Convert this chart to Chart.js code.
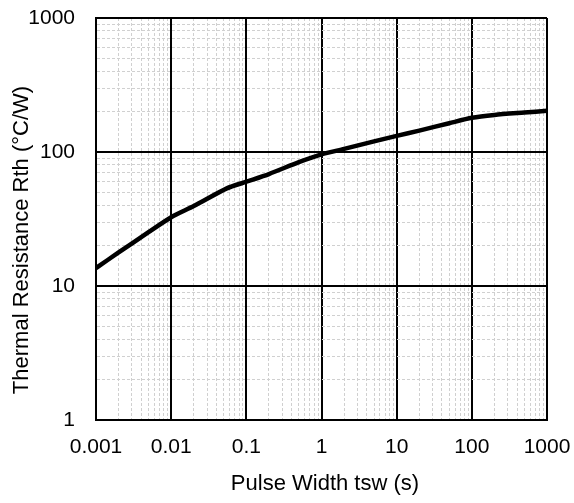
<!DOCTYPE html>
<html>
<head>
<meta charset="utf-8">
<title>Thermal Resistance vs Pulse Width</title>
<script src="https://cdn.jsdelivr.net/npm/chart.js@4.4.1/dist/chart.umd.min.js"></script>
<style>
  html, body { margin: 0; padding: 0; background: #fff; }
  #chart { display: block; }
</style>
</head>
<body>
<canvas id="chart" width="574" height="503"></canvas>
<script>
  // values
  const pulseWidth = [0.001, 0.002, 0.005, 0.01, 0.02, 0.055, 0.1, 0.2, 0.5, 1, 2, 5, 10, 20, 50, 100, 200, 500, 1000];
  const thermalRes = [13.6, 17.8, 25.2, 32.6, 39.5, 53.5, 60, 68.5, 84, 96, 105.5, 120, 132, 144.5, 164, 180, 189, 197, 203];

  const xMajorTicks = [0.001, 0.01, 0.1, 1, 10, 100, 1000];
  const xTickLabels = ["0.001", "0.01", "0.1", "1", "10", "100", "1000"];
  const yMajorTicks = [1, 10, 100, 1000];
  const yTickLabels = ["1", "10", "100", "1000"];
  const minorSteps = [2, 3, 4, 5, 6, 7, 8, 9];

  const xTitle = "Pulse Width tsw (s)";
  const yTitle = "Thermal Resistance Rth (°C/W)";

  const FONT = "Arial, 'Liberation Sans', sans-serif";

  function withMinors(majors) {
    const out = [];
    majors.forEach((m, i) => {
      out.push(m);
      if (i < majors.length - 1) {
        minorSteps.forEach((s) => out.push(+(m * s).toPrecision(6)));
      }
    });
    return out;
  }

  function isMajor(list, v) {
    return list.some((m) => Math.abs(m - v) / m < 1e-6);
  }

  function labelFor(list, labels, v) {
    const i = list.findIndex((m) => Math.abs(m - v) / m < 1e-6);
    return i >= 0 ? labels[i] : "";
  }

  function gridStyle(list) {
    return {
      drawTicks: false,
      color: (c) => (c.tick && isMajor(list, c.tick.value) ? "#000" : "#d0d0d0"),
      lineWidth: (c) => (c.tick && isMajor(list, c.tick.value) ? 2 : 1),
    };
  }

  function borderStyle(list) {
    return {
      display: true,
      color: "#000",
      width: 2,
      dash: (c) => (c.tick && !isMajor(list, c.tick.value) ? [3, 2] : []),
    };
  }

  // the tick padding would otherwise be added around the plot area
  function noEdgePadding(scale) {
    scale.paddingTop = 0;
    scale.paddingBottom = 0;
    scale.paddingLeft = 0;
    scale.paddingRight = 0;
  }

  const axisTitles = {
    id: "axisTitles",
    afterDraw(chart) {
      const ctx = chart.ctx;
      ctx.save();
      ctx.fillStyle = "#000";
      ctx.font = "22px " + FONT;
      ctx.textAlign = "center";
      ctx.textBaseline = "alphabetic";
      ctx.fillText(xTitle, 325, 490);
      ctx.translate(28, 240);
      ctx.rotate(-Math.PI / 2);
      ctx.fillText(yTitle, 0, 0);
      ctx.restore();
    },
  };

  const ctx = document.getElementById("chart").getContext("2d");
  new Chart(ctx, {
    type: "line",
    data: {
      datasets: [
        {
          data: pulseWidth.map((x, i) => ({ x, y: thermalRes[i] })),
          borderColor: "#000",
          borderWidth: 4.5,
          pointRadius: 0,
          fill: false,
          tension: 0.25,
        },
      ],
    },
    options: {
      responsive: false,
      devicePixelRatio: 1,
      animation: false,
      layout: { padding: { left: 0, right: 27, top: 18, bottom: 0 } },
      plugins: {
        legend: { display: false },
        tooltip: { enabled: false },
      },
      scales: {
        x: {
          type: "logarithmic",
          min: 0.001,
          max: 1000,
          afterBuildTicks: (scale) => {
            scale.ticks = withMinors(xMajorTicks).map((v) => ({ value: v }));
          },
          afterFit: (scale) => {
            scale.height = 83;
            noEdgePadding(scale);
          },
          ticks: {
            autoSkip: false,
            maxRotation: 0,
            padding: 15,
            color: "#000",
            font: { family: FONT, size: 21 },
            callback: (v) => labelFor(xMajorTicks, xTickLabels, v),
          },
          grid: gridStyle(xMajorTicks),
          border: borderStyle(xMajorTicks),
        },
        y: {
          type: "logarithmic",
          min: 1,
          max: 1000,
          afterBuildTicks: (scale) => {
            scale.ticks = withMinors(yMajorTicks).map((v) => ({ value: v }));
          },
          afterFit: (scale) => {
            scale.width = 96;
            noEdgePadding(scale);
          },
          ticks: {
            autoSkip: false,
            padding: 21,
            color: "#000",
            font: { family: FONT, size: 21 },
            callback: (v) => labelFor(yMajorTicks, yTickLabels, v),
          },
          grid: gridStyle(yMajorTicks),
          border: borderStyle(yMajorTicks),
        },
      },
    },
    plugins: [axisTitles],
  });
</script>
</body>
</html>
